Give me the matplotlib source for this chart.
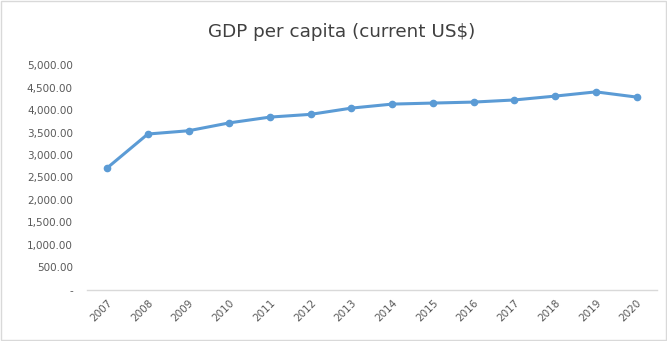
import matplotlib
matplotlib.use("Agg")
import matplotlib.pyplot as plt
from matplotlib.ticker import FuncFormatter, MultipleLocator

years = ["2007", "2008", "2009", "2010", "2011", "2012", "2013",
         "2014", "2015", "2016", "2017", "2018", "2019", "2020"]
gdp_per_capita = [2711, 3467, 3540, 3715, 3844, 3905, 4044,
                  4133, 4156, 4178, 4225, 4311, 4405, 4289]

fig = plt.figure(figsize=(6.67, 3.41), dpi=100)
fig.patch.set_facecolor("white")
ax = fig.add_axes([0.130, 0.150, 0.855, 0.659])

x = list(range(len(years)))
ax.plot(x, gdp_per_capita, color="#5B9BD5", linewidth=2.2,
        marker="o", markersize=4.5, markerfacecolor="#5B9BD5",
        markeredgecolor="#5B9BD5", solid_joinstyle="round")

ax.set_xlim(-0.5, len(years) - 0.5)
ax.set_ylim(0, 5000)
ax.yaxis.set_major_locator(MultipleLocator(500))
ax.yaxis.set_major_formatter(FuncFormatter(lambda v, p: "-" if v == 0 else f"{v:,.2f}"))
ax.set_xticks(x)
ax.set_xticklabels(years, rotation=45, ha="right", rotation_mode="anchor")

for s in ["top", "right", "left"]:
    ax.spines[s].set_visible(False)
ax.spines["bottom"].set_color("#D9D9D9")
ax.spines["bottom"].set_linewidth(1.0)
ax.tick_params(axis="both", length=0, labelsize=7.5, labelcolor="#595959")
ax.tick_params(axis="y", pad=10)
ax.tick_params(axis="x", pad=6)

fig.text(0.512, 0.905, "GDP per capita (current US$)", ha="center", va="center",
         fontsize=13.2, color="#404040")

fig.patches.append(plt.Rectangle((0.002, 0.003), 0.996, 0.994, transform=fig.transFigure,
                                 fill=False, edgecolor="#D9D9D9", linewidth=1.0))

fig.savefig("out.png", dpi=100)
